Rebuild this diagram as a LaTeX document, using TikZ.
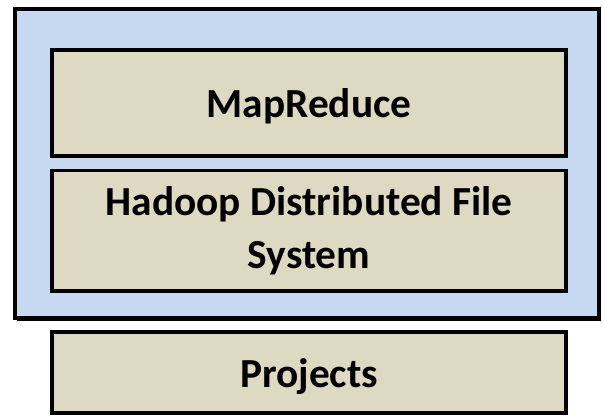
\documentclass[tikz,border=0pt]{standalone}
\usepackage{fontspec}
\setmainfont{Carlito}
\definecolor{outerblue}{HTML}{C6D9F1}
\definecolor{boxbeige}{HTML}{DDD9C3}
\begin{document}
\begin{tikzpicture}[x=1bp,y=-1bp,
  outerbox/.style={draw=black, line width=4bp, fill=outerblue, inner sep=0pt},
  layerbox/.style={draw=black, line width=3.6bp, fill=boxbeige, inner sep=0pt,
    minimum width=514bp, align=center,
    font=\fontsize{41.5}{53}\selectfont\bfseries}]
\useasboundingbox (0,0) rectangle (603,415);
\fill[black] (17,12) rectangle (601,321);
\node[outerbox, minimum width=584bp, minimum height=309bp] (outer) at (307,163.5) {};
\node[layerbox, minimum height=106bp, text depth=0pt] (mapreduce) at (309,103) {MapReduce};
\node[layerbox, minimum height=120.5bp] (hdfs) at (309,230.75) {Hadoop Distributed File\\System};
\node[layerbox, minimum height=81bp, text depth=0pt] (projects) at (309,372.5) {Projects};
\end{tikzpicture}
\end{document}
